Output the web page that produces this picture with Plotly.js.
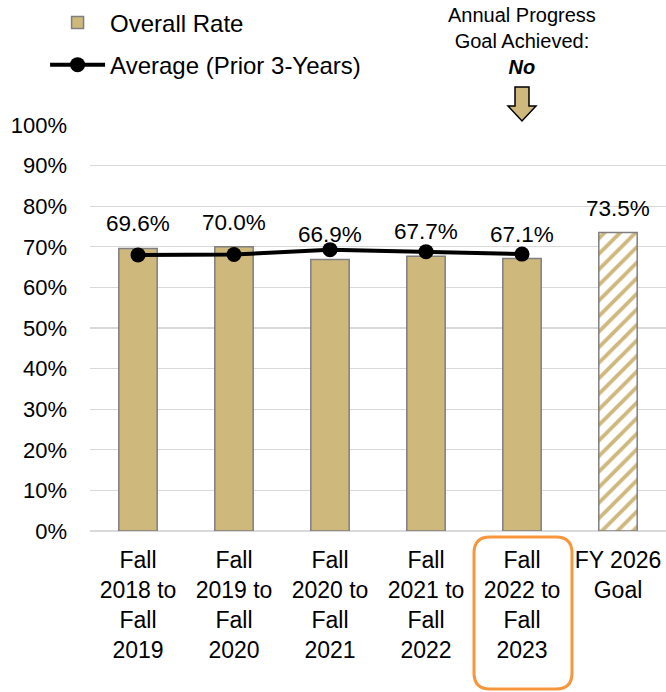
<!DOCTYPE html>
<html>
<head>
<meta charset="utf-8">
<script src="https://cdn.plot.ly/plotly-3.0.1.min.js"></script>
<style>html,body{margin:0;padding:0;background:#fff;}#chart{width:666px;height:692px;}</style>
</head>
<body>
<div id="chart"></div>
<script>
const categories = [
  "Fall<br>2018 to<br>Fall<br>2019",
  "Fall<br>2019 to<br>Fall<br>2020",
  "Fall<br>2020 to<br>Fall<br>2021",
  "Fall<br>2021 to<br>Fall<br>2022",
  "Fall<br>2022 to<br>Fall<br>2023",
  "FY 2026<br>Goal"
];
const overallRate = [0.696, 0.700, 0.669, 0.677, 0.671, 0.735];
const avgCategories = categories.slice(0, 5);
const avgPrior3 = [0.680, 0.681, 0.693, 0.688, 0.682];
const patternShapes = ["", "", "", "", "", "/"];
const yTicks = [0,0.1,0.2,0.3,0.4,0.5,0.6,0.7,0.8,0.9,1.0];

const GOLD = "#CFB87C";
const FONT = "Liberation Sans, Arial, sans-serif";

const bars = {
  type: "bar",
  name: "Overall Rate",
  x: categories,
  y: overallRate,
  width: 0.4,
  marker: {
    color: GOLD,
    line: {color: "#7f7f7f", width: 1.5},
    pattern: {
      shape: patternShapes,
      fgcolor: GOLD,
      bgcolor: "#ffffff",
      size: 11,
      solidity: 0.35,
      fillmode: "replace"
    }
  },
  hoverinfo: "skip",
  legendgroup: "a"
};

const line = {
  type: "scatter",
  mode: "lines+markers",
  name: "Average (Prior 3-Years)",
  x: avgCategories,
  y: avgPrior3,
  line: {color: "#000000", width: 4},
  marker: {color: "#000000", size: 15},
  hoverinfo: "skip",
  legendgroup: "b"
};

const labelAnnotations = categories.map((c, i) => ({
  x: c, y: overallRate[i], xref: "x", yref: "y",
  text: (overallRate[i]*100).toFixed(1) + "%",
  showarrow: false, yanchor: "bottom", yshift: 10,
  font: {family: FONT, size: 22.5, color: "#000"}
}));

const goalNote = {
  x: categories[4], xref: "x", y: 1.302, yref: "paper",
  yanchor: "top", xanchor: "center",
  text: "Annual Progress<br>Goal Achieved:<br><b><i>No</i></b>",
  showarrow: false,
  font: {family: FONT, size: 20, color: "#000"}
};

// helper converting pixel positions to paper coords for decorations
const L = 90, R = 666, T = 125, B = 531;
const px = v => (v - L) / (R - L);
const py = v => (B - v) / (B - T);

function roundedRect(x0, y0, x1, y1, r) {
  const rx = r / (R - L), ry = r / (B - T);
  const a = px(x0), b = px(x1), top = py(y0), bot = py(y1);
  return `M ${a+rx},${top} L ${b-rx},${top} Q ${b},${top} ${b},${top-ry} ` +
         `L ${b},${bot+ry} Q ${b},${bot} ${b-rx},${bot} L ${a+rx},${bot} ` +
         `Q ${a},${bot} ${a},${bot+ry} L ${a},${top-ry} Q ${a},${top} ${a+rx},${top} Z`;
}

function downArrow(cx, yTop, yNeck, yTip, halfShaft, halfHead) {
  return `M ${px(cx-halfShaft)},${py(yTop)} L ${px(cx+halfShaft)},${py(yTop)} ` +
         `L ${px(cx+halfShaft)},${py(yNeck)} L ${px(cx+halfHead)},${py(yNeck)} ` +
         `L ${px(cx)},${py(yTip)} L ${px(cx-halfHead)},${py(yNeck)} ` +
         `L ${px(cx-halfShaft)},${py(yNeck)} Z`;
}

const layout = {
  width: 666, height: 692,
  margin: {l: L, r: 666 - R, t: T, b: 692 - B, pad: 0, autoexpand: false},
  paper_bgcolor: "#ffffff",
  plot_bgcolor: "#ffffff",
  font: {family: FONT, size: 22, color: "#000"},
  barmode: "overlay",
  showlegend: true,
  legend: {
    x: -0.078, y: 1.307, xanchor: "left", yanchor: "top",
    font: {family: FONT, size: 24, color: "#000"},
    traceorder: "grouped", tracegroupgap: 8,
    bgcolor: "rgba(0,0,0,0)", itemwidth: 55
  },
  xaxis: {
    type: "category",
    range: [-0.5, 5.5],
    showgrid: false, zeroline: false, showline: false,
    ticks: "", ticklabelstandoff: 13,
    tickfont: {family: FONT, size: 23, color: "#000"},
    fixedrange: true
  },
  yaxis: {
    range: [0, 1.0],
    tickvals: yTicks,
    ticktext: yTicks.map(v => Math.round(v*100) + "%"),
    showgrid: true, gridcolor: "#d9d9d9", gridwidth: 1.3,
    zeroline: true, zerolinecolor: "#d9d9d9", zerolinewidth: 1.3,
    showline: false, ticks: "",
    ticklabelstandoff: 22,
    tickfont: {family: FONT, size: 22, color: "#000"},
    fixedrange: true
  },
  annotations: [...labelAnnotations, goalNote],
  shapes: [
    {type: "path", xref: "paper", yref: "paper",
     path: roundedRect(474, 537, 572, 689, 16),
     line: {color: "#F7963C", width: 3}, fillcolor: "rgba(0,0,0,0)", layer: "above"},
    {type: "path", xref: "paper", yref: "paper",
     path: downArrow(522, 87, 106, 121, 7, 14),
     line: {color: "#000000", width: 1.5}, fillcolor: GOLD, layer: "above"}
  ]
};

Plotly.newPlot("chart", [bars, line], layout, {displayModeBar: false, staticPlot: true});
</script>
</body>
</html>
